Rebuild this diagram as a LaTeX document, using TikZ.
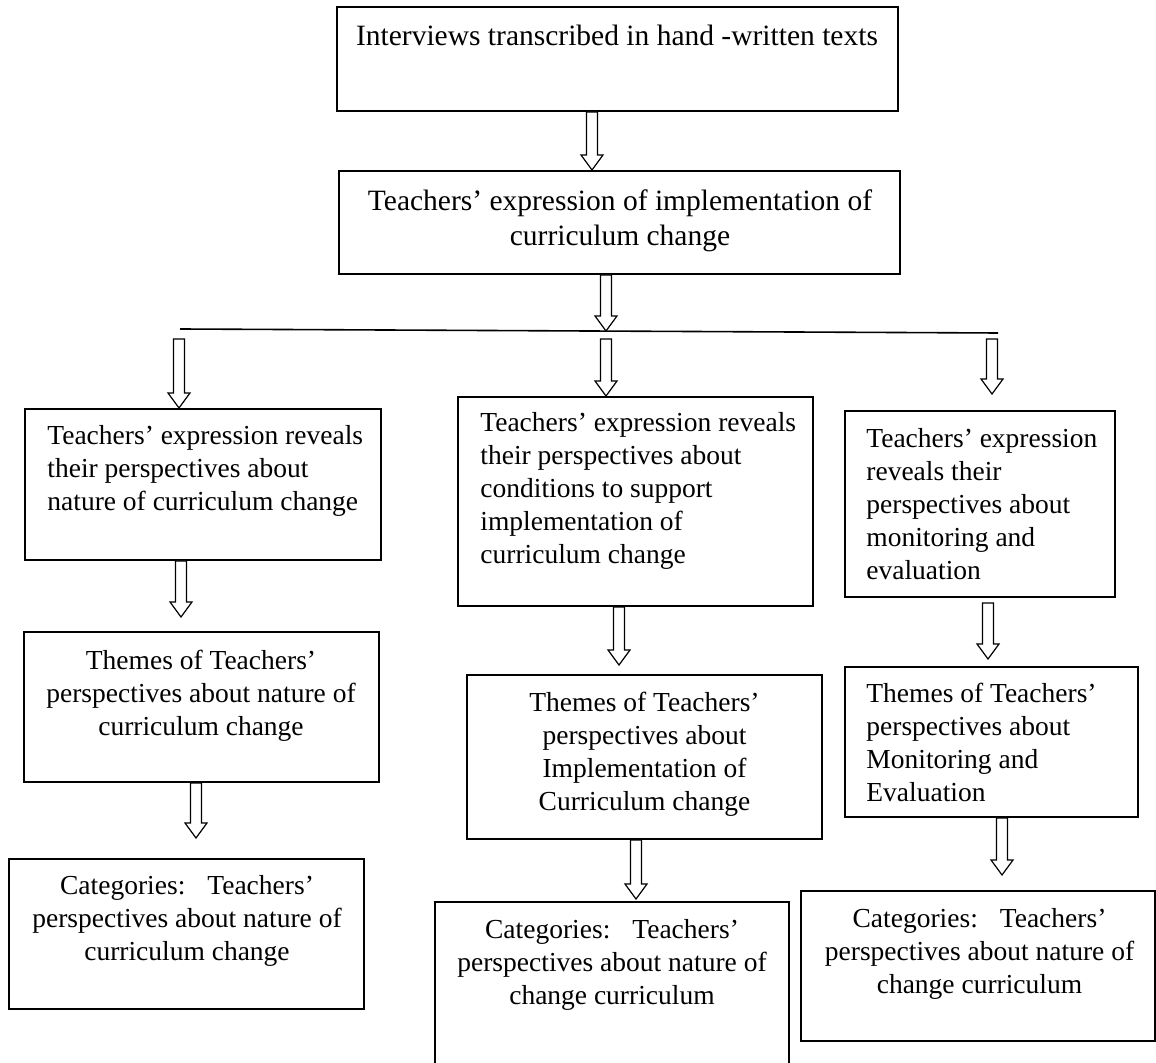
\documentclass[tikz,border=0pt]{standalone}
\usepackage{fontspec}
\setmainfont{Liberation Serif}
\usetikzlibrary{calc}

\begin{document}
\begin{tikzpicture}[x=0.5pt,y=-0.5pt,
box/.style={draw,line width=0.6pt,inner sep=0pt},
txt/.style={inner sep=0pt,font=\fontsize{13.75pt}{16.5pt}\selectfont},
bigtxt/.style={inner sep=0pt,font=\fontsize{14.75pt}{17.5pt}\selectfont},
lefttxt/.style={txt,align=left,anchor=north west},
midtxt/.style={txt,align=center,anchor=north},
harrow/.style={draw,line width=0.6pt,fill=white},
branch/.style={line width=0.8pt}]
\useasboundingbox (0,0) rectangle (1156,1063);

\node[box,minimum width=280.5pt,minimum height=52pt] (top) at (617.5,59) {};
\node[box,minimum width=280.5pt,minimum height=51.5pt] (expr) at (619.5,222.5) {};
\node[box,minimum width=178pt,minimum height=75.5pt] (natA) at (203,484.5) {};
\node[box,minimum width=177.5pt,minimum height=104.5pt] (condA) at (635.5,501.5) {};
\node[box,minimum width=135pt,minimum height=93pt] (monA) at (980,504) {};
\node[box,minimum width=177.5pt,minimum height=75pt] (natT) at (201.5,707) {};
\node[box,minimum width=177.5pt,minimum height=82pt] (condT) at (644.5,757) {};
\node[box,minimum width=146.5pt,minimum height=75pt] (monT) at (991.5,742) {};
\node[box,minimum width=177.5pt,minimum height=75pt] (natC) at (186.5,934) {};
\node[box,minimum width=177pt,minimum height=83pt] (condC) at (612,985) {};
\node[box,minimum width=177pt,minimum height=75pt] (monC) at (978,966) {};

\node[bigtxt,align=center,anchor=north] (top-txt) at (617,21) {\strut Interviews transcribed in hand -written texts};
\node[bigtxt,align=center,anchor=north] (expr-txt) at (620,186) {\strut Teachers’ expression of implementation of\\curriculum change};
\node[lefttxt] (natA-txt) at (47,421) {\strut Teachers’ expression reveals\\their perspectives about\\nature of curriculum change};
\node[lefttxt] (condA-txt) at (480,408) {\strut Teachers’ expression reveals\\their perspectives about\\conditions to support\\implementation of\\curriculum change};
\node[lefttxt] (monA-txt) at (866,424) {\strut Teachers’ expression\\reveals their\\perspectives about\\monitoring and\\evaluation};
\node[midtxt] (natT-txt) at (201,646) {\strut Themes of Teachers’\\perspectives about nature of\\curriculum change};
\node[midtxt] (condT-txt) at (644.5,688) {\strut Themes of Teachers’\\perspectives about\\Implementation of\\Curriculum change};
\node[lefttxt] (monT-txt) at (866,679) {\strut Themes of Teachers’\\perspectives about\\Monitoring and\\Evaluation};
\node[midtxt] (natC-txt) at (187,871) {\strut Categories:\hspace{0.8em}Teachers’\\perspectives about nature of\\curriculum change};
\node[midtxt] (condC-txt) at (612,915) {\strut Categories:\hspace{0.8em}Teachers’\\perspectives about nature of\\change curriculum};
\node[midtxt] (monC-txt) at (979.5,904) {\strut Categories:\hspace{0.8em}Teachers’\\perspectives about nature of\\change curriculum};

\coordinate (bl) at (180,329);
\coordinate (br) at (998,333);
\draw[branch] (bl) -- (br);

\coordinate (a1s) at (592,112);  \coordinate (a1e) at (592,170);
\coordinate (a2s) at (606,275);  \coordinate (a2e) at (606,331);
\coordinate (b1s) at (179,339);  \coordinate (b1e) at (179,408);
\coordinate (b2s) at (606,339);  \coordinate (b2e) at (606,396);
\coordinate (b3s) at (992,339);  \coordinate (b3e) at (992,394);
\coordinate (c1s) at (181,561);  \coordinate (c1e) at (181,617);
\coordinate (c2s) at (196,783);  \coordinate (c2e) at (196,838);
\coordinate (d1s) at (619,607);  \coordinate (d1e) at (619,665);
\coordinate (d2s) at (636,840);  \coordinate (d2e) at (636,899);
\coordinate (e1s) at (988,603);  \coordinate (e1e) at (988,659);
\coordinate (e2s) at (1002,818); \coordinate (e2e) at (1002,875);

\foreach \s/\e in {a1s/a1e,a2s/a2e,b1s/b1e,b2s/b2e,b3s/b3e,c1s/c1e,c2s/c2e,d1s/d1e,d2s/d2e,e1s/e1e,e2s/e2e}
  \draw[harrow] let \p1=(\s), \p2=(\e) in
    (\x2-2.75pt,\y1) -- (\x2-2.75pt,\y2+7.5pt) -- (\x2-5.5pt,\y2+7.5pt) -- (\x2,\y2)
    -- (\x2+5.5pt,\y2+7.5pt) -- (\x2+2.75pt,\y2+7.5pt) -- (\x2+2.75pt,\y1) -- cycle;
\end{tikzpicture}
\end{document}
